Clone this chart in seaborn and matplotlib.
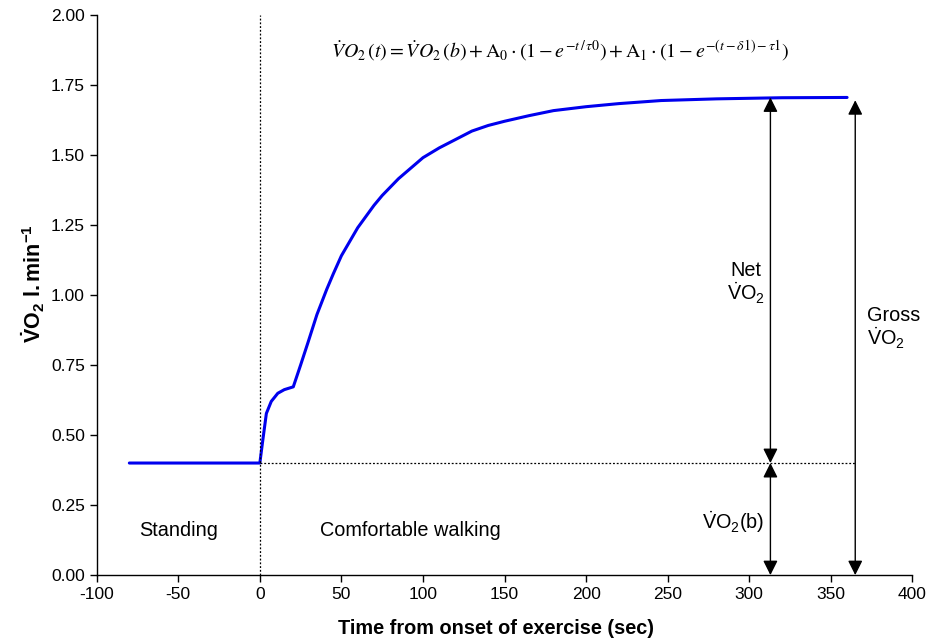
import matplotlib
matplotlib.use("Agg")
import matplotlib.pyplot as plt
import seaborn as sns
import pandas as pd

time_s = [-80, 0, 2, 4, 7, 11, 15, 20.5, 25, 29.5, 35, 41, 45, 50, 55, 60, 65, 70, 75,
          80, 85, 90, 95, 100, 110, 120, 130, 140, 150, 165, 180, 200, 220, 246, 280,
          320, 360]
vo2 = [0.40, 0.40, 0.49, 0.577, 0.62, 0.649, 0.662, 0.672, 0.75, 0.83, 0.93, 1.02,
       1.075, 1.14, 1.19, 1.24, 1.28, 1.32, 1.355, 1.385, 1.415, 1.44, 1.465, 1.49,
       1.525, 1.555, 1.585, 1.605, 1.62, 1.64, 1.658, 1.672, 1.683, 1.694, 1.70,
       1.704, 1.705]

baseline = 0.40
peak = 1.705
net_x = 313
gross_x = 365

x_ticks = [-100, -50, 0, 50, 100, 150, 200, 250, 300, 350, 400]
y_ticks = [0.0, 0.25, 0.5, 0.75, 1.0, 1.25, 1.5, 1.75, 2.0]

sns.set_style("ticks")
plt.rcParams['font.family'] = ['Liberation Sans', 'DejaVu Sans']
plt.rcParams['axes.unicode_minus'] = False
plt.rcParams['text.color'] = 'black'
plt.rcParams['axes.labelcolor'] = 'black'
plt.rcParams['mathtext.fontset'] = 'custom'
plt.rcParams['mathtext.rm'] = 'Liberation Sans'
plt.rcParams['mathtext.it'] = 'Liberation Sans:italic'
plt.rcParams['mathtext.bf'] = 'Liberation Sans:bold'

fig = plt.figure(figsize=(9.3, 6.44), dpi=100)
ax = fig.add_axes([0.104, 0.107, 0.877, 0.870])

df = pd.DataFrame({"t": time_s, "vo2": vo2})
sns.lineplot(data=df, x="t", y="vo2", ax=ax, color="#0000ee", lw=2.2)

ax.set_xlim(-100, 400)
ax.set_ylim(0, 2.0)
ax.set_xticks(x_ticks)
ax.set_yticks(y_ticks)
ax.set_xticklabels([str(v) for v in x_ticks])
ax.set_yticklabels([f"{v:.2f}" for v in y_ticks])
ax.tick_params(labelsize=12.5, length=5, width=1, color="black", direction="out",
               labelcolor="black")
for s in ["left", "bottom"]:
    ax.spines[s].set_color("black")
    ax.spines[s].set_linewidth(1)
sns.despine(ax=ax)

ax.set_xlabel("Time from onset of exercise (sec)", fontsize=14.3, fontweight="bold",
              color="black")
ax.xaxis.set_label_coords(0.49, -0.079)
ax.set_ylabel(r"$\mathbf{\dot{V}O_2\ l.min^{-1}}$", fontsize=15.5, color="black")
ax.yaxis.set_label_coords(-0.061, 0.52)

# reference lines
ax.axvline(0, color="black", lw=0.9, ls=(0, (1.5, 1.5)))
ax.plot([0, gross_x], [baseline, baseline], color="black", lw=0.9, ls=(0, (1.5, 1.5)))

arrow = dict(arrowstyle="<|-|>", color="black", lw=1.0, mutation_scale=22,
             shrinkA=0, shrinkB=0)
ax.annotate("", xy=(net_x, peak), xytext=(net_x, baseline), arrowprops=arrow)
ax.annotate("", xy=(net_x, baseline), xytext=(net_x, 0), arrowprops=arrow)
ax.annotate("", xy=(gross_x, peak - 0.01), xytext=(gross_x, 0), arrowprops=arrow)

fs = 14.3
ax.text(-50, 0.16, "Standing", ha="center", va="center", fontsize=fs)
ax.text(92, 0.16, "Comfortable walking", ha="center", va="center", fontsize=fs)
ax.text(298, 1.04, "Net\n" + r"$\dot{\mathrm{V}}\mathrm{O}_2$", ha="center", va="center",
        fontsize=fs, linespacing=1.05)
ax.text(372, 0.88, "Gross\n" + r"$\dot{\mathrm{V}}\mathrm{O}_2$", ha="left", va="center",
        fontsize=fs, linespacing=1.05)
ax.text(290, 0.19, r"$\dot{\mathrm{V}}\mathrm{O}_2\mathrm{(b)}$", ha="center", va="center",
        fontsize=fs)

formula = (r"$\dot{V}O_2\,(t) = \dot{V}O_2\,(b) + \mathrm{A}_0 \cdot (1 - e^{-t\,/\,\tau 0})"
           r" + \mathrm{A}_1 \cdot (1 - e^{-(t-\delta 1)-\tau 1})$")
ax.text(184, 1.87, formula, ha="center", va="center", fontsize=14.3,
        math_fontfamily="stix")

fig.savefig("out.png", dpi=100)
